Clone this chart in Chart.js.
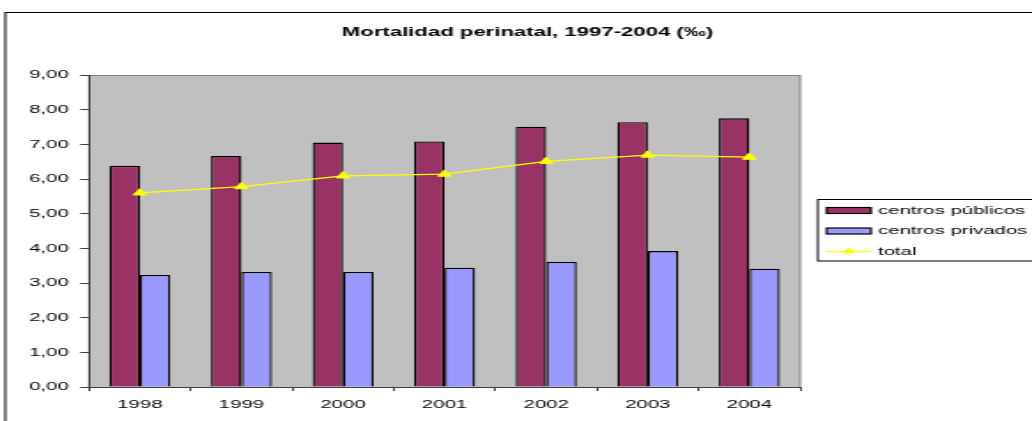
<!DOCTYPE html>
<html>
<head>
<meta charset="utf-8">
<script src="https://cdn.jsdelivr.net/npm/chart.js@4"></script>
<style>
  body { margin: 0; background: #fff; overflow: hidden; }
  /* the reference is a narrow chart stretched sideways, so draw narrow and stretch */
  #wrap { width: 583px; height: 421px; transform: scaleX(1.7702); transform-origin: 0 0; }
</style>
</head>
<body>
<div id="wrap"><canvas id="mortalidad"></canvas></div>
<script>
  const years = ["1998", "1999", "2000", "2001", "2002", "2003", "2004"];
  const publicos = [6.38, 6.66, 7.05, 7.08, 7.51, 7.64, 7.75];
  const privados = [3.23, 3.32, 3.32, 3.44, 3.61, 3.92, 3.41];
  const total = [5.60, 5.78, 6.09, 6.14, 6.51, 6.69, 6.63];
  const yTicks = [0, 1, 2, 3, 4, 5, 6, 7, 8, 9];

  const FONT = "'Liberation Sans', Arial, sans-serif";
  const titleText = "Mortalidad perinatal, 1997-2004 (‰)";

  const frame = {
    id: "frame",
    beforeDraw(chart) {
      const { ctx, chartArea } = chart;
      ctx.save();
      ctx.fillStyle = "#C0C0C0";
      ctx.fillRect(chartArea.left, chartArea.top, chartArea.right - chartArea.left, chartArea.bottom - chartArea.top);
      ctx.strokeStyle = "#808080";
      ctx.lineWidth = 1;
      ctx.strokeRect(chartArea.left, chartArea.top + 0.5, chartArea.right - chartArea.left, chartArea.bottom - chartArea.top);
      ctx.restore();
    },
    afterDraw(chart) {
      const ctx = chart.ctx;
      ctx.save();
      // outer chart border, cut at right and bottom
      ctx.strokeStyle = "#000";
      ctx.lineWidth = 1;
      ctx.strokeRect(3, 12.5, chart.width + 20, chart.height + 20);

      // title
      ctx.fillStyle = "#000";
      ctx.font = "bold 12.5px " + FONT;
      ctx.textAlign = "center";
      ctx.textBaseline = "middle";
      ctx.fillText(titleText, 298, 33);

      // legend
      const lx = 462, ly = 199.5;
      ctx.strokeRect(lx, ly, 200, 61.5);
      ctx.font = "11.5px " + FONT;
      ctx.textAlign = "left";
      const rows = [210.5, 231, 251.5];
      chart.data.datasets.forEach((ds, i) => {
        const y = rows[i];
        if (ds.type === "line") {
          ctx.strokeStyle = ds.borderColor;
          ctx.lineWidth = 1.2;
          ctx.beginPath();
          ctx.moveTo(467, y);
          ctx.lineTo(492, y);
          ctx.stroke();
          ctx.fillStyle = ds.borderColor;
          ctx.beginPath();
          ctx.moveTo(479.5, y - 4);
          ctx.lineTo(483.2, y + 2);
          ctx.lineTo(475.8, y + 2);
          ctx.closePath();
          ctx.fill();
        } else {
          ctx.fillStyle = ds.backgroundColor;
          ctx.fillRect(467, y - 3, 25, 6);
          ctx.strokeStyle = "#000";
          ctx.lineWidth = 1.2;
          ctx.strokeRect(467, y - 3, 25, 6);
        }
        ctx.fillStyle = "#000";
        ctx.fillText(ds.label, 496, y);
      });
      ctx.restore();
    },
  };

  new Chart(document.getElementById("mortalidad"), {
    data: {
      labels: years,
      datasets: [
        {
          type: "bar",
          label: "centros públicos",
          data: publicos,
          backgroundColor: "#993366",
          borderColor: "#000",
          borderWidth: 1.3,
          order: 1,
        },
        {
          type: "bar",
          label: "centros privados",
          data: privados,
          backgroundColor: "#9999FF",
          borderColor: "#000",
          borderWidth: 1.3,
          order: 1,
        },
        {
          type: "line",
          label: "total",
          data: total,
          borderColor: "#FFFF00",
          backgroundColor: "#FFFF00",
          borderWidth: 1.2,
          pointStyle: "triangle",
          pointRadius: 4.2,
          pointBorderWidth: 1,
          tension: 0,
          order: 0,
        },
      ],
    },
    options: {
      responsive: true,
      maintainAspectRatio: false,
      animation: false,
      devicePixelRatio: 1,
      layout: { padding: { top: 75, right: 131, left: 0, bottom: 0 } },
      datasets: { bar: { categoryPercentage: 0.6, barPercentage: 1.0 } },
      plugins: {
        legend: { display: false },
        title: { display: false },
        tooltip: { enabled: false },
      },
      scales: {
        x: {
          offset: true,
          grid: { offset: true, drawOnChartArea: false, drawTicks: true, tickLength: 4, color: "#404040" },
          border: { color: "#404040", width: 1 },
          ticks: { color: "#000", font: { family: FONT, size: 11.5 }, padding: 7, maxRotation: 0 },
          afterFit(scale) { scale.height = 34; },
        },
        y: {
          min: 0,
          max: 9,
          afterBuildTicks(scale) { scale.ticks = yTicks.map((v) => ({ value: v })); },
          grid: { drawOnChartArea: false, drawTicks: true, tickLength: 5, color: "#404040" },
          border: { color: "#404040", width: 1 },
          ticks: {
            color: "#000",
            font: { family: FONT, size: 11.5 },
            padding: 6.5,
            callback: (v) => v.toFixed(2).replace(".", ","),
          },
          afterFit(scale) { scale.width = 50.3; },
        },
      },
    },
    plugins: [frame],
  });
</script>
</body>
</html>
